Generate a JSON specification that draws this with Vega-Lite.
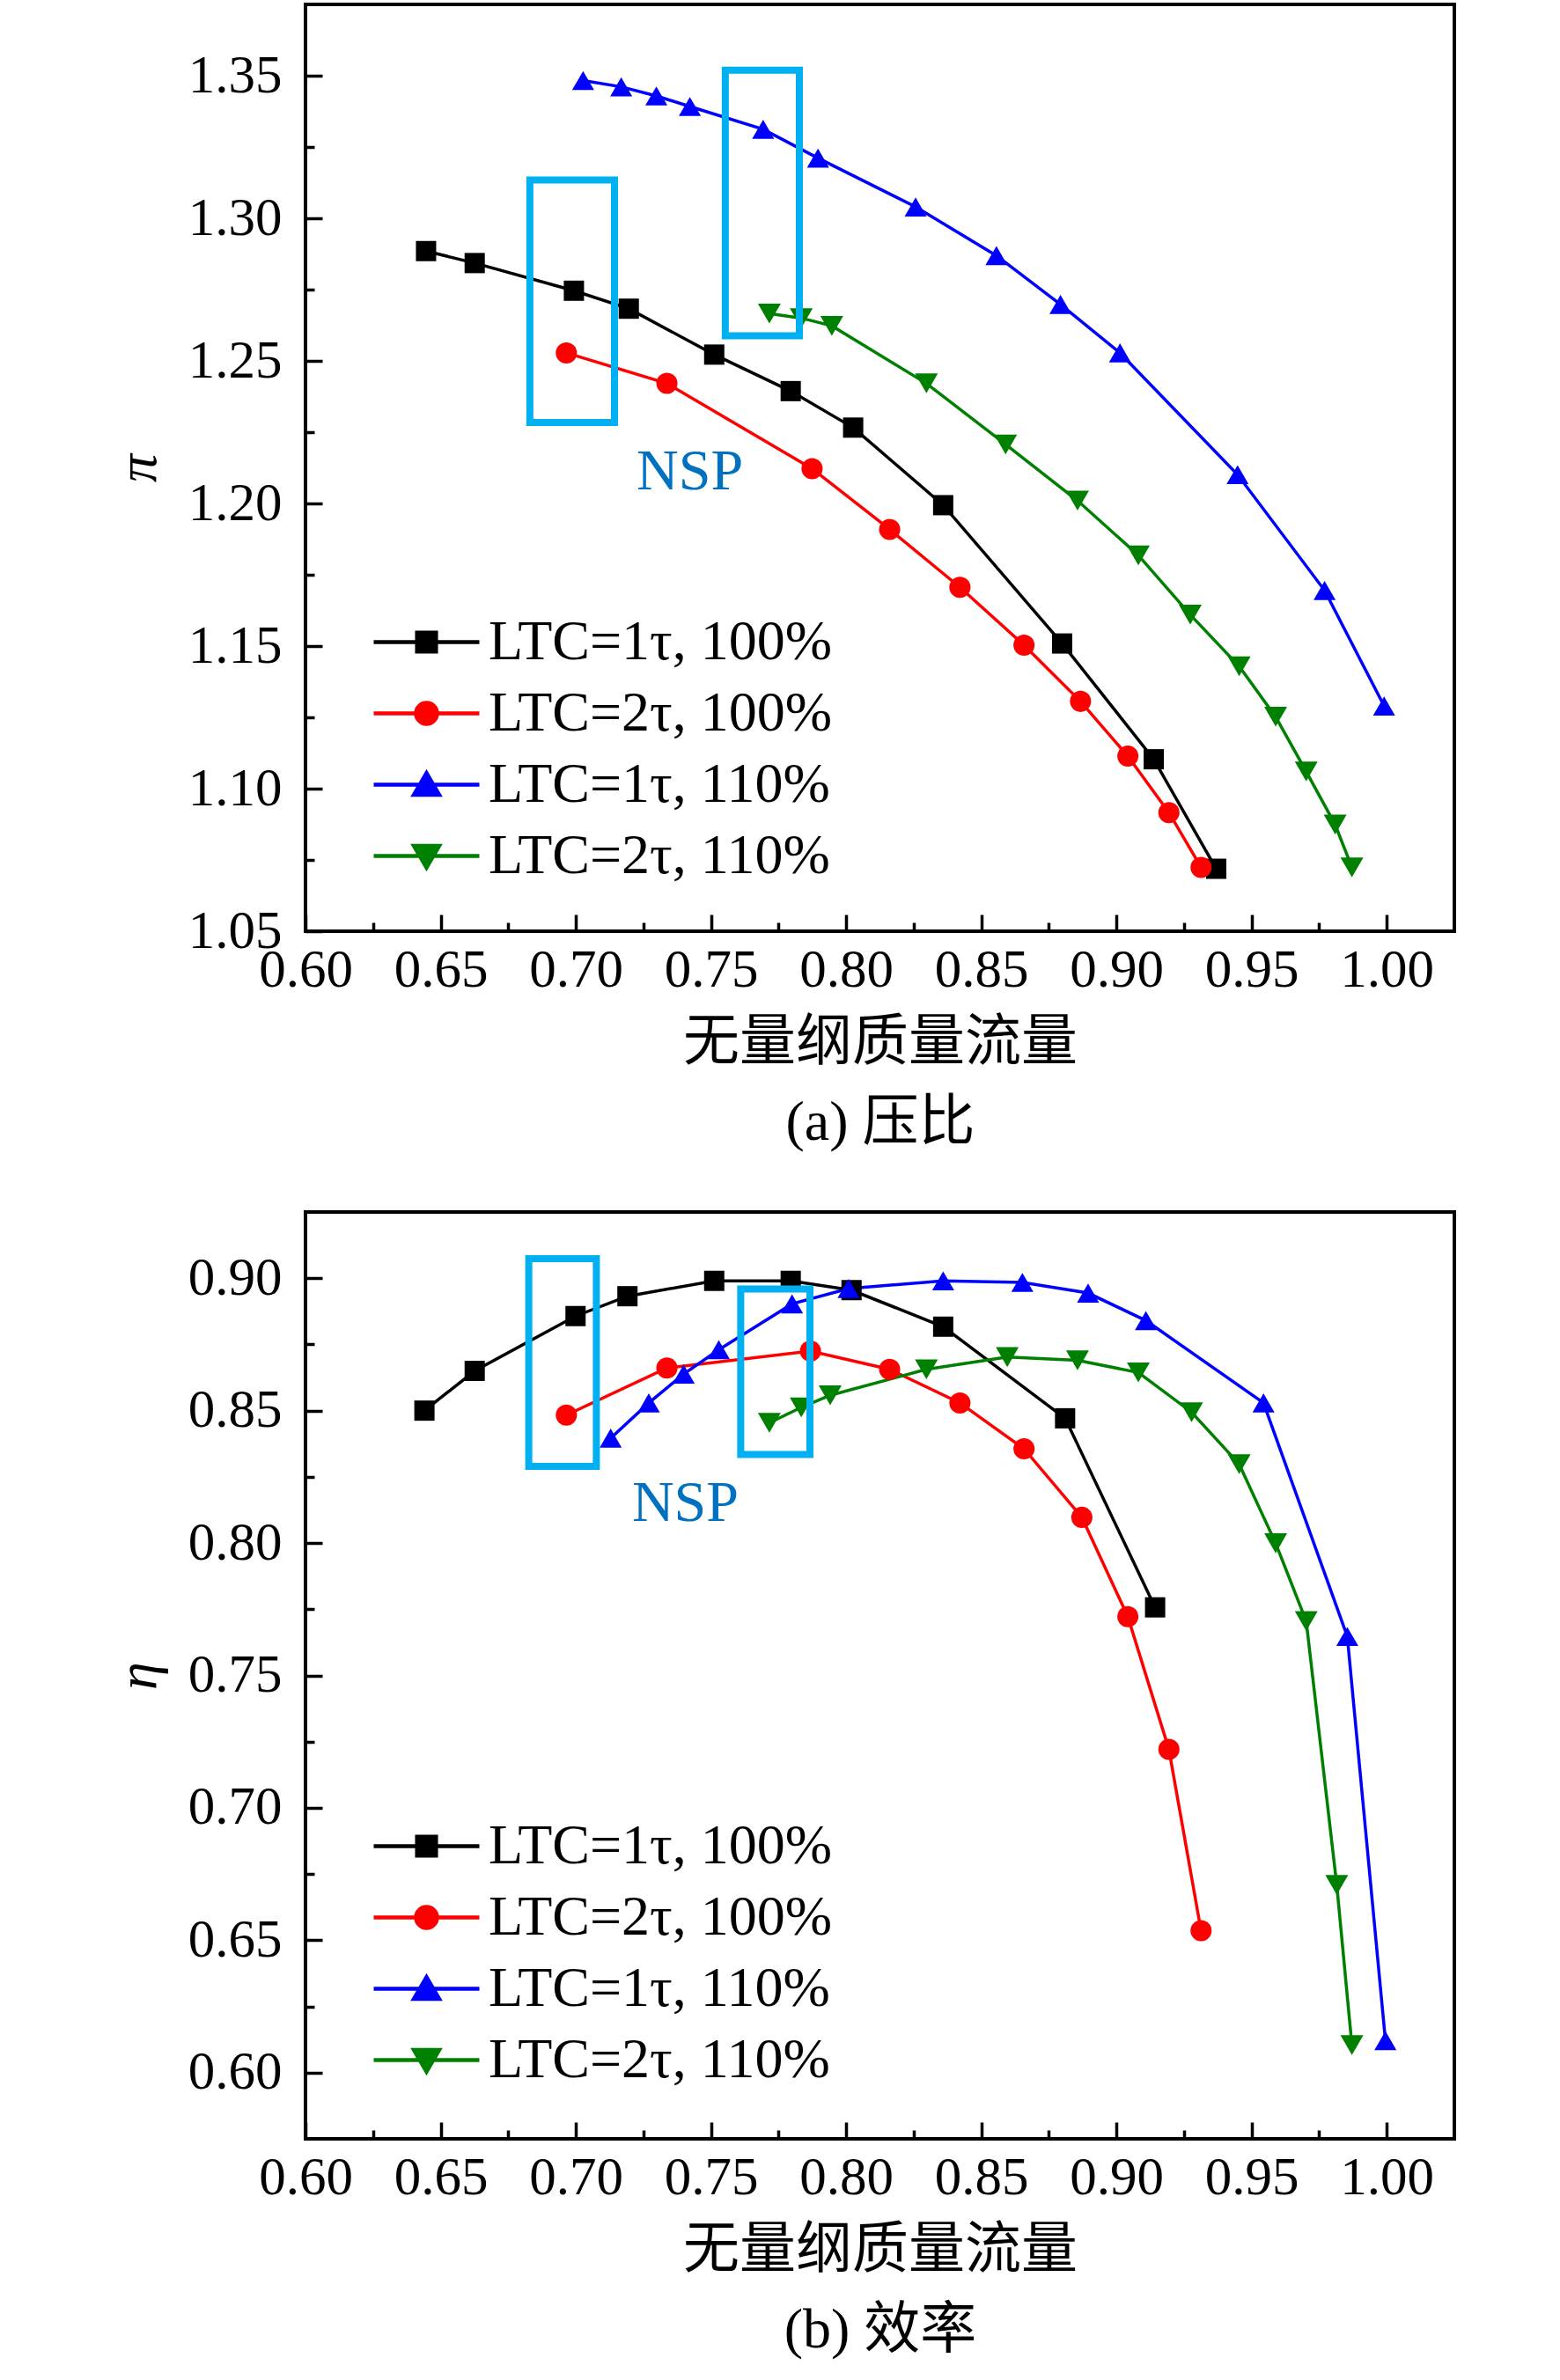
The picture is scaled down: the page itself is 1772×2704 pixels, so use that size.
{
  "$schema": "https://vega.github.io/schema/vega-lite/v6.json",
  "background": "white",
  "padding": {"left": 123, "top": 3, "right": 10, "bottom": 5},
  "spacing": 66,
  "datasets": {
    "pressure": [
      {"series": "LTC=1τ, 100%", "flow": 0.6446, "value": 1.2885},
      {"series": "LTC=1τ, 100%", "flow": 0.6626, "value": 1.2843},
      {"series": "LTC=1τ, 100%", "flow": 0.6993, "value": 1.2746},
      {"series": "LTC=1τ, 100%", "flow": 0.7196, "value": 1.2683},
      {"series": "LTC=1τ, 100%", "flow": 0.7512, "value": 1.2522},
      {"series": "LTC=1τ, 100%", "flow": 0.7795, "value": 1.2394},
      {"series": "LTC=1τ, 100%", "flow": 0.8026, "value": 1.2266},
      {"series": "LTC=1τ, 100%", "flow": 0.8359, "value": 1.1994},
      {"series": "LTC=1τ, 100%", "flow": 0.8799, "value": 1.1509},
      {"series": "LTC=1τ, 100%", "flow": 0.9138, "value": 1.1103},
      {"series": "LTC=1τ, 100%", "flow": 0.9369, "value": 1.0719},
      {"series": "LTC=2τ, 100%", "flow": 0.6965, "value": 1.2528},
      {"series": "LTC=2τ, 100%", "flow": 0.7337, "value": 1.2421},
      {"series": "LTC=2τ, 100%", "flow": 0.7874, "value": 1.2122},
      {"series": "LTC=2τ, 100%", "flow": 0.8161, "value": 1.1909},
      {"series": "LTC=2τ, 100%", "flow": 0.8421, "value": 1.1706},
      {"series": "LTC=2τ, 100%", "flow": 0.8658, "value": 1.1503},
      {"series": "LTC=2τ, 100%", "flow": 0.8867, "value": 1.1306},
      {"series": "LTC=2τ, 100%", "flow": 0.9042, "value": 1.1114},
      {"series": "LTC=2τ, 100%", "flow": 0.9194, "value": 1.0916},
      {"series": "LTC=2τ, 100%", "flow": 0.9313, "value": 1.0724},
      {"series": "LTC=1τ, 110%", "flow": 0.7027, "value": 1.3483},
      {"series": "LTC=1τ, 110%", "flow": 0.7168, "value": 1.3461},
      {"series": "LTC=1τ, 110%", "flow": 0.7298, "value": 1.3429},
      {"series": "LTC=1τ, 110%", "flow": 0.7422, "value": 1.3392},
      {"series": "LTC=1τ, 110%", "flow": 0.7693, "value": 1.3312},
      {"series": "LTC=1τ, 110%", "flow": 0.7896, "value": 1.3211},
      {"series": "LTC=1τ, 110%", "flow": 0.8257, "value": 1.3040},
      {"series": "LTC=1τ, 110%", "flow": 0.8556, "value": 1.2869},
      {"series": "LTC=1τ, 110%", "flow": 0.8793, "value": 1.2698},
      {"series": "LTC=1τ, 110%", "flow": 0.9013, "value": 1.2528},
      {"series": "LTC=1τ, 110%", "flow": 0.9448, "value": 1.2101},
      {"series": "LTC=1τ, 110%", "flow": 0.9770, "value": 1.1695},
      {"series": "LTC=1τ, 110%", "flow": 0.9990, "value": 1.1290},
      {"series": "LTC=2τ, 110%", "flow": 0.7716, "value": 1.2666},
      {"series": "LTC=2τ, 110%", "flow": 0.7834, "value": 1.2650},
      {"series": "LTC=2τ, 110%", "flow": 0.7947, "value": 1.2623},
      {"series": "LTC=2τ, 110%", "flow": 0.8297, "value": 1.2421},
      {"series": "LTC=2τ, 110%", "flow": 0.8590, "value": 1.2207},
      {"series": "LTC=2τ, 110%", "flow": 0.8856, "value": 1.2010},
      {"series": "LTC=2τ, 110%", "flow": 0.9081, "value": 1.1818},
      {"series": "LTC=2τ, 110%", "flow": 0.9273, "value": 1.1610},
      {"series": "LTC=2τ, 110%", "flow": 0.9454, "value": 1.1429},
      {"series": "LTC=2τ, 110%", "flow": 0.9589, "value": 1.1252},
      {"series": "LTC=2τ, 110%", "flow": 0.9702, "value": 1.1060},
      {"series": "LTC=2τ, 110%", "flow": 0.9809, "value": 1.0874},
      {"series": "LTC=2τ, 110%", "flow": 0.9871, "value": 1.0724}
    ],
    "efficiency": [
      {"series": "LTC=1τ, 100%", "flow": 0.6440, "value": 0.8500},
      {"series": "LTC=1τ, 100%", "flow": 0.6626, "value": 0.8650},
      {"series": "LTC=1τ, 100%", "flow": 0.6999, "value": 0.8857},
      {"series": "LTC=1τ, 100%", "flow": 0.7191, "value": 0.8932},
      {"series": "LTC=1τ, 100%", "flow": 0.7512, "value": 0.8990},
      {"series": "LTC=1τ, 100%", "flow": 0.7795, "value": 0.8990},
      {"series": "LTC=1τ, 100%", "flow": 0.8020, "value": 0.8955},
      {"series": "LTC=1τ, 100%", "flow": 0.8359, "value": 0.8817},
      {"series": "LTC=1τ, 100%", "flow": 0.8810, "value": 0.8471},
      {"series": "LTC=1τ, 100%", "flow": 0.9143, "value": 0.7757},
      {"series": "LTC=2τ, 100%", "flow": 0.6965, "value": 0.8483},
      {"series": "LTC=2τ, 100%", "flow": 0.7337, "value": 0.8661},
      {"series": "LTC=2τ, 100%", "flow": 0.7868, "value": 0.8725},
      {"series": "LTC=2τ, 100%", "flow": 0.8161, "value": 0.8656},
      {"series": "LTC=2τ, 100%", "flow": 0.8421, "value": 0.8529},
      {"series": "LTC=2τ, 100%", "flow": 0.8658, "value": 0.8356},
      {"series": "LTC=2τ, 100%", "flow": 0.8872, "value": 0.8097},
      {"series": "LTC=2τ, 100%", "flow": 0.9042, "value": 0.7722},
      {"series": "LTC=2τ, 100%", "flow": 0.9194, "value": 0.7221},
      {"series": "LTC=2τ, 100%", "flow": 0.9313, "value": 0.6536},
      {"series": "LTC=1τ, 110%", "flow": 0.7129, "value": 0.8396},
      {"series": "LTC=1τ, 110%", "flow": 0.7270, "value": 0.8529},
      {"series": "LTC=1τ, 110%", "flow": 0.7399, "value": 0.8638},
      {"series": "LTC=1τ, 110%", "flow": 0.7529, "value": 0.8730},
      {"series": "LTC=1τ, 110%", "flow": 0.7800, "value": 0.8903},
      {"series": "LTC=1τ, 110%", "flow": 0.8009, "value": 0.8961},
      {"series": "LTC=1τ, 110%", "flow": 0.8359, "value": 0.8990},
      {"series": "LTC=1τ, 110%", "flow": 0.8652, "value": 0.8984},
      {"series": "LTC=1τ, 110%", "flow": 0.8895, "value": 0.8944},
      {"series": "LTC=1τ, 110%", "flow": 0.9109, "value": 0.8840},
      {"series": "LTC=1τ, 110%", "flow": 0.9544, "value": 0.8529},
      {"series": "LTC=1τ, 110%", "flow": 0.9854, "value": 0.7647},
      {"series": "LTC=1τ, 110%", "flow": 0.9995, "value": 0.6121},
      {"series": "LTC=2τ, 110%", "flow": 0.7716, "value": 0.8454},
      {"series": "LTC=2τ, 110%", "flow": 0.7834, "value": 0.8512},
      {"series": "LTC=2τ, 110%", "flow": 0.7941, "value": 0.8558},
      {"series": "LTC=2τ, 110%", "flow": 0.8297, "value": 0.8656},
      {"series": "LTC=2τ, 110%", "flow": 0.8596, "value": 0.8702},
      {"series": "LTC=2τ, 110%", "flow": 0.8856, "value": 0.8690},
      {"series": "LTC=2τ, 110%", "flow": 0.9081, "value": 0.8644},
      {"series": "LTC=2τ, 110%", "flow": 0.9278, "value": 0.8494},
      {"series": "LTC=2τ, 110%", "flow": 0.9454, "value": 0.8298},
      {"series": "LTC=2τ, 110%", "flow": 0.9589, "value": 0.7999},
      {"series": "LTC=2τ, 110%", "flow": 0.9702, "value": 0.7705},
      {"series": "LTC=2τ, 110%", "flow": 0.9815, "value": 0.6709},
      {"series": "LTC=2τ, 110%", "flow": 0.9871, "value": 0.6104}
    ],
    "boxesA": [
      {"x1": 0.6830, "x2": 0.7143, "y1": 1.2284, "y2": 1.3134},
      {"x1": 0.7553, "x2": 0.7827, "y1": 1.2588, "y2": 1.3519}
    ],
    "boxesB": [
      {"x1": 0.6826, "x2": 0.7076, "y1": 0.8289, "y2": 0.9074},
      {"x1": 0.7610, "x2": 0.7866, "y1": 0.8334, "y2": 0.8959}
    ],
    "nspA": [{"flow": 0.7422, "value": 1.2112, "label": "NSP"}],
    "nspB": [{"flow": 0.7405, "value": 0.8149, "label": "NSP"}]
  },
  "vconcat": [
    {
      "width": 1305,
      "height": 1053,
      "layer": [
        {
          "data": {"name": "pressure"},
          "encoding": {
            "x": {"field": "flow", "type": "quantitative",
              "scale": {"domain": [0.6, 1.025], "nice": false, "zero": false},
              "axis": {"orient": "bottom", "values": [0.6, 0.65, 0.7, 0.75, 0.8, 0.85, 0.9, 0.95, 1.0], "format": ".2f", "tickSize": -19, "labelPadding": 33,
                "title": ["无量纲质量流量", "(a) 压比"], "titlePadding": 20, "titleLineHeight": 91}},
            "y": {"field": "value", "type": "quantitative",
              "scale": {"domain": [1.05, 1.375], "nice": false, "zero": false},
              "axis": {"orient": "left", "values": [1.05, 1.1, 1.15, 1.2, 1.25, 1.3, 1.35], "format": ".2f", "tickSize": -19, "labelPadding": 46,
                "title": "π", "titleFontStyle": "italic", "titlePadding": 24}},
            "color": {"field": "series", "type": "nominal",
              "scale": {"domain": ["LTC=1τ, 100%", "LTC=2τ, 100%", "LTC=1τ, 110%", "LTC=2τ, 110%"], "range": ["#000000", "#FF0000", "#0000FF", "#008000"]},
              "legend": {"orient": "none", "legendX": 105, "legendY": 692, "title": null, "padding": 0,
                "labelFont": "Liberation Serif", "labelFontSize": 64, "labelColor": "#000000", "labelOffset": 38, "labelLimit": 1000,
                "symbolSize": 3600, "symbolStrokeWidth": 4, "symbolOpacity": 1, "rowPadding": 16,
                "encode": {"symbols": {"update": {
                  "shape": {"signal": "datum.value === 'LTC=1τ, 100%' ? 'M-2,0H2M-0.36,-0.36H0.36V0.36H-0.36Z' : datum.value === 'LTC=2τ, 100%' ? 'M-2,0H2M-0.4,0A0.4,0.4,0,1,0,0.4,0A0.4,0.4,0,1,0,-0.4,0Z' : datum.value === 'LTC=1τ, 110%' ? 'M-2,0H2M0,-0.44L0.48,0.38L-0.48,0.38Z' : 'M-2,0H2M0,0.44L0.48,-0.38L-0.48,-0.38Z'"},
                  "fill": {"signal": "datum.value === 'LTC=1τ, 100%' ? '#000000' : datum.value === 'LTC=2τ, 100%' ? '#FF0000' : datum.value === 'LTC=1τ, 110%' ? '#0000FF' : '#008000'"},
                  "stroke": {"signal": "datum.value === 'LTC=1τ, 100%' ? '#000000' : datum.value === 'LTC=2τ, 100%' ? '#FF0000' : datum.value === 'LTC=1τ, 110%' ? '#0000FF' : '#008000'"},
                  "strokeWidth": {"value": 4.5}
                }}}}}
          },
          "layer": [
            {"mark": {"type": "line", "strokeWidth": 3.5}},
            {"mark": {"type": "point", "filled": true, "opacity": 1},
             "encoding": {
               "shape": {"field": "series", "type": "nominal", "scale": {"domain": ["LTC=1τ, 100%", "LTC=2τ, 100%", "LTC=1τ, 110%", "LTC=2τ, 110%"], "range": ["square", "circle", "triangle-up", "triangle-down"]}, "legend": null},
               "size": {"field": "series", "type": "ordinal", "scale": {"domain": ["LTC=1τ, 100%", "LTC=2τ, 100%", "LTC=1τ, 110%", "LTC=2τ, 110%"], "range": [529, 676, 900, 900]}, "legend": null}
             }}
          ]
        },
        {
          "data": {"name": "boxesA"},
          "mark": {"type": "rect", "fill": "transparent", "stroke": "#00B0F0", "strokeWidth": 8},
          "encoding": {
            "x": {"field": "x1", "type": "quantitative", "scale": {"domain": [0.6, 1.025], "nice": false, "zero": false},
              "axis": {"orient": "bottom", "values": [0.625, 0.675, 0.725, 0.775, 0.825, 0.875, 0.925, 0.975], "labels": false, "tickSize": -10, "title": null}},
            "x2": {"field": "x2"},
            "y": {"field": "y1", "type": "quantitative", "scale": {"domain": [1.05, 1.375], "nice": false, "zero": false},
              "axis": {"orient": "left", "values": [1.075, 1.125, 1.175, 1.225, 1.275, 1.325], "labels": false, "tickSize": -10, "title": null}},
            "y2": {"field": "y2"}
          }
        },
        {
          "data": {"name": "nspA"},
          "mark": {"type": "text", "font": "Liberation Serif", "fontSize": 66, "color": "#0070C0", "align": "center", "baseline": "middle"},
          "encoding": {
            "x": {"field": "flow", "type": "quantitative", "axis": null},
            "y": {"field": "value", "type": "quantitative", "axis": null},
            "text": {"field": "label"}
          }
        }
      ],
      "resolve": {"axis": {"x": "independent", "y": "independent"}}
    },
    {
      "width": 1305,
      "height": 1053,
      "layer": [
        {
          "data": {"name": "efficiency"},
          "encoding": {
            "x": {"field": "flow", "type": "quantitative",
              "scale": {"domain": [0.6, 1.025], "nice": false, "zero": false},
              "axis": {"orient": "bottom", "values": [0.6, 0.65, 0.7, 0.75, 0.8, 0.85, 0.9, 0.95, 1.0], "format": ".2f", "tickSize": -19, "labelPadding": 33,
                "title": ["无量纲质量流量", "(b) 效率"], "titlePadding": 20, "titleLineHeight": 91}},
            "y": {"field": "value", "type": "quantitative",
              "scale": {"domain": [0.575, 0.925], "nice": false, "zero": false},
              "axis": {"orient": "left", "values": [0.6, 0.65, 0.7, 0.75, 0.8, 0.85, 0.9], "format": ".2f", "tickSize": -19, "labelPadding": 46,
                "title": "η", "titleFontStyle": "italic", "titlePadding": 24}},
            "color": {"field": "series", "type": "nominal",
              "scale": {"domain": ["LTC=1τ, 100%", "LTC=2τ, 100%", "LTC=1τ, 110%", "LTC=2τ, 110%"], "range": ["#000000", "#FF0000", "#0000FF", "#008000"]},
              "legend": {"orient": "none", "legendX": 105, "legendY": 688, "title": null, "padding": 0,
                "labelFont": "Liberation Serif", "labelFontSize": 64, "labelColor": "#000000", "labelOffset": 38, "labelLimit": 1000,
                "symbolSize": 3600, "symbolStrokeWidth": 4, "symbolOpacity": 1, "rowPadding": 16,
                "encode": {"symbols": {"update": {
                  "shape": {"signal": "datum.value === 'LTC=1τ, 100%' ? 'M-2,0H2M-0.36,-0.36H0.36V0.36H-0.36Z' : datum.value === 'LTC=2τ, 100%' ? 'M-2,0H2M-0.4,0A0.4,0.4,0,1,0,0.4,0A0.4,0.4,0,1,0,-0.4,0Z' : datum.value === 'LTC=1τ, 110%' ? 'M-2,0H2M0,-0.44L0.48,0.38L-0.48,0.38Z' : 'M-2,0H2M0,0.44L0.48,-0.38L-0.48,-0.38Z'"},
                  "fill": {"signal": "datum.value === 'LTC=1τ, 100%' ? '#000000' : datum.value === 'LTC=2τ, 100%' ? '#FF0000' : datum.value === 'LTC=1τ, 110%' ? '#0000FF' : '#008000'"},
                  "stroke": {"signal": "datum.value === 'LTC=1τ, 100%' ? '#000000' : datum.value === 'LTC=2τ, 100%' ? '#FF0000' : datum.value === 'LTC=1τ, 110%' ? '#0000FF' : '#008000'"},
                  "strokeWidth": {"value": 4.5}
                }}}}}
          },
          "layer": [
            {"mark": {"type": "line", "strokeWidth": 3.5}},
            {"mark": {"type": "point", "filled": true, "opacity": 1},
             "encoding": {
               "shape": {"field": "series", "type": "nominal", "scale": {"domain": ["LTC=1τ, 100%", "LTC=2τ, 100%", "LTC=1τ, 110%", "LTC=2τ, 110%"], "range": ["square", "circle", "triangle-up", "triangle-down"]}, "legend": null},
               "size": {"field": "series", "type": "ordinal", "scale": {"domain": ["LTC=1τ, 100%", "LTC=2τ, 100%", "LTC=1τ, 110%", "LTC=2τ, 110%"], "range": [529, 676, 900, 900]}, "legend": null}
             }}
          ]
        },
        {
          "data": {"name": "boxesB"},
          "mark": {"type": "rect", "fill": "transparent", "stroke": "#00B0F0", "strokeWidth": 8},
          "encoding": {
            "x": {"field": "x1", "type": "quantitative", "scale": {"domain": [0.6, 1.025], "nice": false, "zero": false},
              "axis": {"orient": "bottom", "values": [0.625, 0.675, 0.725, 0.775, 0.825, 0.875, 0.925, 0.975], "labels": false, "tickSize": -10, "title": null}},
            "x2": {"field": "x2"},
            "y": {"field": "y1", "type": "quantitative", "scale": {"domain": [0.575, 0.925], "nice": false, "zero": false},
              "axis": {"orient": "left", "values": [0.625, 0.675, 0.725, 0.775, 0.825, 0.875], "labels": false, "tickSize": -10, "title": null}},
            "y2": {"field": "y2"}
          }
        },
        {
          "data": {"name": "nspB"},
          "mark": {"type": "text", "font": "Liberation Serif", "fontSize": 66, "color": "#0070C0", "align": "center", "baseline": "middle"},
          "encoding": {
            "x": {"field": "flow", "type": "quantitative", "axis": null},
            "y": {"field": "value", "type": "quantitative", "axis": null},
            "text": {"field": "label"}
          }
        }
      ],
      "resolve": {"axis": {"x": "independent", "y": "independent"}}
    }
  ],
  "resolve": {"scale": {"color": "independent"}, "legend": {"color": "independent"}},
  "config": {
    "view": {"stroke": "#000000", "strokeWidth": 4},
    "axis": {
      "domain": false, "grid": false,
      "tickColor": "#000000", "tickWidth": 3.5,
      "labelFont": "Liberation Serif", "labelFontSize": 61, "labelColor": "#000000",
      "labelFlush": false, "labelOverlap": false, "labelLimit": 500,
      "titleFont": "Liberation Serif, Noto Sans CJK SC", "titleFontSize": 64, "titleFontWeight": "normal", "titleColor": "#000000"
    }
  }
}
